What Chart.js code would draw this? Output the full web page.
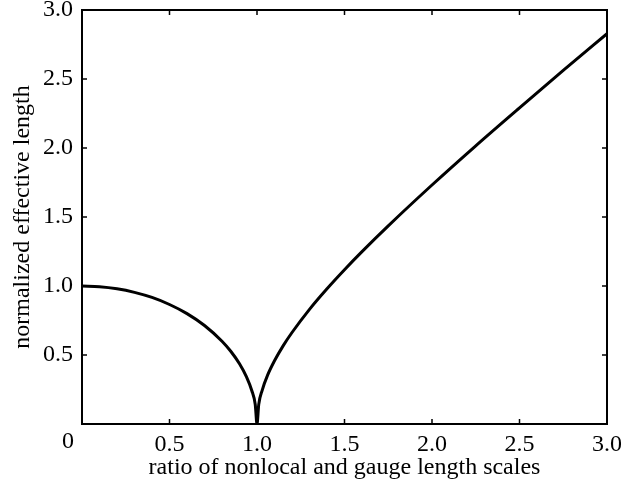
<!DOCTYPE html>
<html>
<head>
<meta charset="utf-8">
<script src="https://cdn.jsdelivr.net/npm/chart.js@4"></script>
<style>
  html, body { margin: 0; padding: 0; background: #fff; }
  #wrap { width: 621px; height: 490px; }
</style>
</head>
<body>
<div id="wrap"><canvas id="lengthChart" width="621" height="490"></canvas></div>
<script>
// values
const ratio = [0, 0.1, 0.2, 0.3, 0.4, 0.5, 0.6, 0.7, 0.8, 0.85, 0.9, 0.94, 0.97, 0.99, 1.0,
  1.01, 1.03, 1.06, 1.1, 1.15, 1.2, 1.3, 1.4, 1.5, 1.6, 1.75, 2.0, 2.25, 2.5, 2.75, 3.0];
const effLength = [1.0, 0.995, 0.98, 0.954, 0.917, 0.866, 0.80, 0.714, 0.60, 0.527, 0.436, 0.341, 0.243, 0.141, 0.0,
  0.142, 0.246, 0.352, 0.458, 0.568, 0.663, 0.831, 0.98, 1.118, 1.249, 1.436, 1.732, 2.016, 2.291, 2.562, 2.828];
const xTicks = [0, 0.5, 1.0, 1.5, 2.0, 2.5, 3.0];
const yTicks = [0, 0.5, 1.0, 1.5, 2.0, 2.5, 3.0];

const serif = 'Liberation Serif';

const frame = {
  id: 'frame',
  afterDraw(chart) {
    const { ctx, chartArea: a, scales } = chart;
    ctx.save();
    ctx.strokeStyle = '#000';
    ctx.lineWidth = 2;
    ctx.strokeRect(a.left, a.top, a.right - a.left, a.bottom - a.top);
    ctx.lineWidth = 1.5;
    ctx.beginPath();
    const len = 5;
    xTicks.forEach(v => {
      const x = scales.x.getPixelForValue(v);
      ctx.moveTo(x, a.bottom); ctx.lineTo(x, a.bottom - len);
      ctx.moveTo(x, a.top); ctx.lineTo(x, a.top + len);
    });
    yTicks.forEach(v => {
      const y = scales.y.getPixelForValue(v);
      ctx.moveTo(a.left, y); ctx.lineTo(a.left + len, y);
      ctx.moveTo(a.right, y); ctx.lineTo(a.right - len, y);
    });
    ctx.stroke();
    // shared origin label
    ctx.fillStyle = '#000';
    ctx.font = '24px ' + serif;
    ctx.textAlign = 'center';
    ctx.textBaseline = 'top';
    ctx.fillText('0', a.left - 14, a.bottom + 6);
    ctx.restore();
  }
};

new Chart(document.getElementById('lengthChart'), {
  type: 'line',
  data: {
    datasets: [{
      data: ratio.map((r, i) => ({ x: r, y: effLength[i] })),
      borderColor: '#000',
      borderWidth: 3,
      pointRadius: 0,
      cubicInterpolationMode: 'monotone',
      fill: false
    }]
  },
  options: {
    responsive: false,
    animation: false,
    layout: { padding: { top: 10, right: 14, left: 0, bottom: 0 } },
    plugins: { legend: { display: false }, tooltip: { enabled: false } },
    scales: {
      x: {
        type: 'linear',
        min: 0, max: 3,
        afterFit(s) { s.height = 66; s.paddingLeft = 0; s.paddingRight = 0; },
        afterBuildTicks(s) { s.ticks = xTicks.map(v => ({ value: v })); },
        grid: { display: false, drawTicks: false },
        border: { display: false },
        ticks: {
          padding: 6,
          color: '#000',
          font: { family: serif, size: 24 },
          maxRotation: 0,
          callback: v => v === 0 ? '' : v.toFixed(1)
        },
        title: {
          display: true,
          text: 'ratio of nonlocal and gauge length scales',
          color: '#000',
          font: { family: serif, size: 24 },
          padding: { top: 0, bottom: 8 }
        }
      },
      y: {
        min: 0, max: 3,
        afterFit(s) { s.width = 82; s.paddingTop = 0; s.paddingBottom = 0; },
        afterBuildTicks(s) { s.ticks = yTicks.map(v => ({ value: v })); },
        grid: { display: false, drawTicks: false },
        border: { display: false },
        ticks: {
          padding: 9,
          color: '#000',
          font: { family: serif, size: 24 },
          callback: v => v === 0 ? '' : v.toFixed(1)
        },
        title: {
          display: true,
          text: 'normalized effective length',
          color: '#000',
          font: { family: serif, size: 24 },
          padding: { top: 8, bottom: 8 }
        }
      }
    }
  },
  plugins: [frame]
});
</script>
</body>
</html>
